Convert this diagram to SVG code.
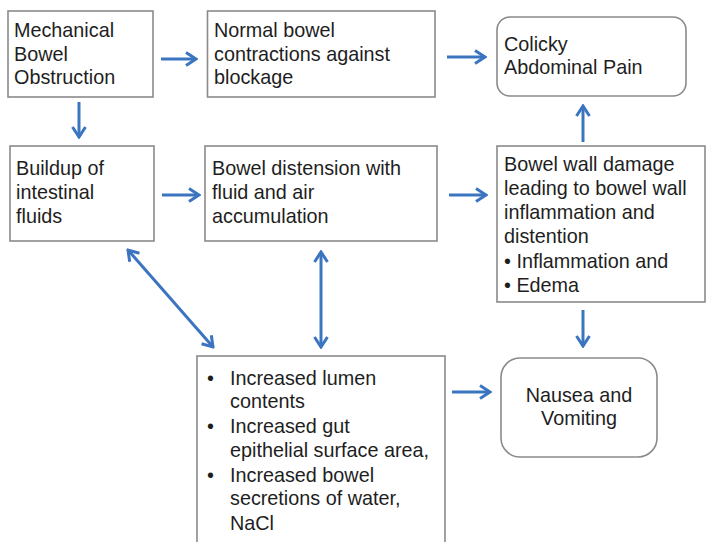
<svg xmlns="http://www.w3.org/2000/svg" width="706" height="542" viewBox="0 0 706 542">
<defs>
<style>
.box{fill:#fff;stroke:#8a8a8a;stroke-width:1.6}
.t{font-family:"Liberation Sans",Arial,sans-serif;font-size:19.8px;fill:#1e1e1e}
.c{stroke:#3b74bf;stroke-width:3;fill:none}
</style>
<marker id="ah" viewBox="0 0 14 16" refX="12" refY="8" markerWidth="14" markerHeight="16" markerUnits="userSpaceOnUse" orient="auto-start-reverse">
<path d="M2,1.5 L12,8 L2,14.5" fill="none" stroke="#3b74bf" stroke-width="3" stroke-linejoin="miter"/>
</marker>
</defs>
<rect width="706" height="542" fill="#fff"/>
<g id="n1"><rect class="box" x="8" y="11" width="145" height="86"/>
<text class="t" x="14" y="37">Mechanical</text><text class="t" x="14" y="61">Bowel</text><text class="t" x="14" y="84">Obstruction</text></g>
<g id="n2"><rect class="box" x="207.5" y="11" width="227.5" height="86"/>
<text class="t" x="214" y="37">Normal bowel</text><text class="t" x="214" y="61">contractions against</text><text class="t" x="214" y="84">blockage</text></g>
<g id="n3"><rect class="box" x="497" y="17" width="189" height="79" rx="13"/>
<text class="t" x="504" y="51">Colicky</text><text class="t" x="504" y="74">Abdominal Pain</text></g>
<g id="n4"><rect class="box" x="10" y="146" width="144" height="95"/>
<text class="t" x="16" y="175">Buildup of</text><text class="t" x="16" y="199">intestinal</text><text class="t" x="16" y="223">fluids</text></g>
<g id="n5"><rect class="box" x="205" y="146" width="232" height="95"/>
<text class="t" x="212" y="175">Bowel distension with</text><text class="t" x="212" y="199">fluid and air</text><text class="t" x="212" y="223">accumulation</text></g>
<g id="n6"><rect class="box" x="497" y="146" width="208" height="156"/>
<text class="t" x="504" y="171">Bowel wall damage</text><text class="t" x="504" y="195">leading to bowel wall</text><text class="t" x="504" y="219">inflammation and</text><text class="t" x="504" y="243">distention</text><text class="t" x="504" y="268">• Inflammation and</text><text class="t" x="504" y="292">• Edema</text></g>
<g id="n7"><rect class="box" x="197" y="356" width="248" height="192"/>
<text class="t" x="207" y="385">•</text><text class="t" x="230" y="385">Increased lumen</text><text class="t" x="230" y="408">contents</text>
<text class="t" x="207" y="433">•</text><text class="t" x="230" y="433">Increased gut</text><text class="t" x="230" y="457">epithelial surface area,</text>
<text class="t" x="207" y="482">•</text><text class="t" x="230" y="482">Increased bowel</text><text class="t" x="230" y="505">secretions of water,</text><text class="t" x="230" y="530">NaCl</text></g>
<g id="n8"><rect class="box" x="501" y="358" width="156" height="99" rx="19"/>
<text class="t" x="579" y="402" text-anchor="middle">Nausea and</text><text class="t" x="579" y="425" text-anchor="middle">Vomiting</text></g>
<g id="connectors">
<line class="c" x1="161" y1="59" x2="196" y2="59" marker-end="url(#ah)"/>
<line class="c" x1="447" y1="57" x2="485" y2="57" marker-end="url(#ah)"/>
<line class="c" x1="79" y1="102" x2="79" y2="137" marker-end="url(#ah)"/>
<line class="c" x1="162" y1="195" x2="199" y2="195" marker-end="url(#ah)"/>
<line class="c" x1="449" y1="195" x2="486" y2="195" marker-end="url(#ah)"/>
<line class="c" x1="583" y1="142" x2="583" y2="106" marker-end="url(#ah)"/>
<line class="c" x1="583" y1="310" x2="583" y2="346" marker-end="url(#ah)"/>
<line class="c" x1="452" y1="392" x2="490" y2="392" marker-end="url(#ah)"/>
<line class="c" x1="128" y1="250" x2="213" y2="347" marker-start="url(#ah)" marker-end="url(#ah)"/>
<line class="c" x1="321" y1="252" x2="321" y2="347" marker-start="url(#ah)" marker-end="url(#ah)"/>
</g>
</svg>
